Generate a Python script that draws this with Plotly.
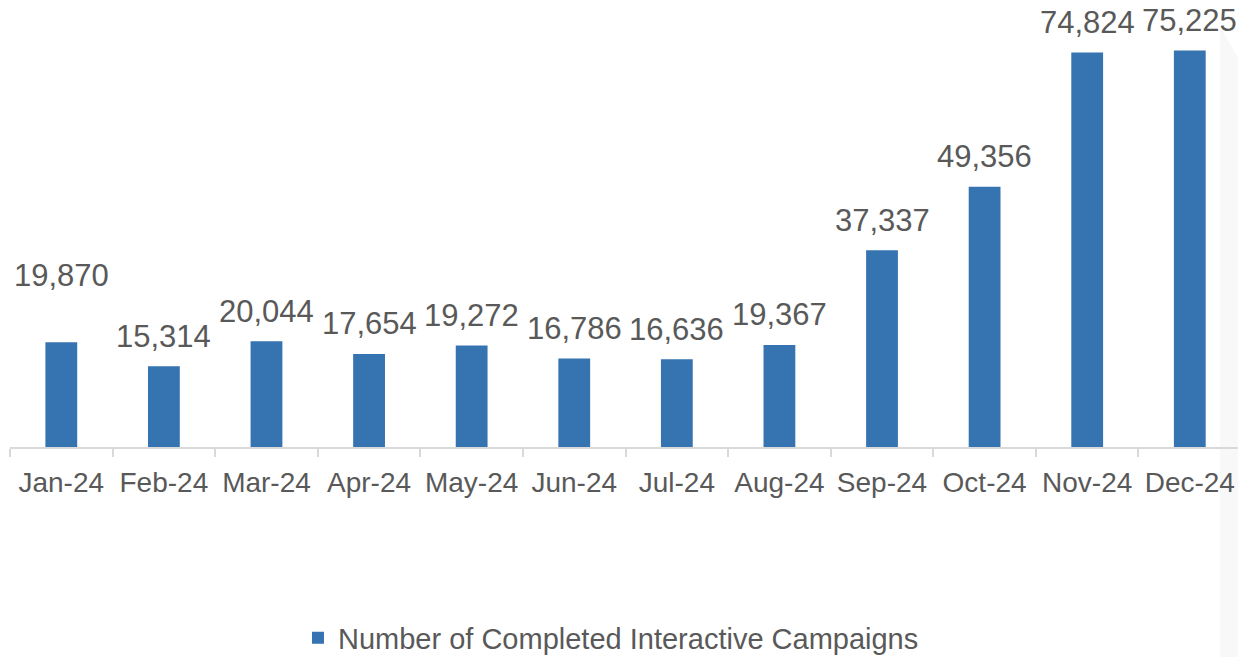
import plotly.graph_objects as go

months = ["Jan-24", "Feb-24", "Mar-24", "Apr-24", "May-24", "Jun-24",
          "Jul-24", "Aug-24", "Sep-24", "Oct-24", "Nov-24", "Dec-24"]
campaigns = [19870, 15314, 20044, 17654, 19272, 16786,
             16636, 19367, 37337, 49356, 74824, 75225]
series_name = "Number of Completed Interactive Campaigns"

BAR = "#3673B1"
TXT = "#595959"
FONT = "Liberation Sans, Arial, sans-serif"

fig = go.Figure()
fig.add_trace(go.Bar(x=months, y=campaigns, name=series_name,
                     marker=dict(color=BAR, line=dict(width=0)),
                     hoverinfo="skip"))

# data labels (Jan label sits higher in the original)
shifts = [67] + [30] * (len(months) - 1)
for m, v, s in zip(months, campaigns, shifts):
    fig.add_annotation(x=m, y=v, text=f"{v:,}", showarrow=False,
                       yanchor="middle", yshift=s,
                       font=dict(size=31, color=TXT, family=FONT))

# light grey strip at the right edge
def px2paper(px, py):
    return (px - 10) / 1228, (447 - py) / 447

pts = [px2paper(1220, 30), px2paper(1222, 30), px2paper(1238, 58),
       px2paper(1238, 657), px2paper(1220, 657)]
path = "M " + " L ".join(f"{x:.5f},{y:.5f}" for x, y in pts) + " Z"
fig.add_shape(type="path", path=path, xref="paper", yref="paper",
              fillcolor="#f8f8f8", line=dict(width=0), layer="below")

fig.update_layout(
    width=1238, height=657,
    margin=dict(l=10, r=0, t=0, b=210, autoexpand=False),
    paper_bgcolor="white", plot_bgcolor="rgba(0,0,0,0)",
    bargap=0.69,
    font=dict(family=FONT, color=TXT),
    showlegend=True,
    legend=dict(orientation="h", x=0.4894, xanchor="center",
                y=-0.427, yanchor="middle",
                font=dict(size=29, color=TXT, family=FONT)),
    xaxis=dict(range=[-0.5, 11.47], showgrid=False, zeroline=False,
               showline=True, linecolor="#d9d9d9", linewidth=2,
               ticks="outside", tickson="boundaries", ticklen=8,
               tickcolor="#d9d9d9", tickwidth=2, tickangle=0,
               automargin=False, ticklabelstandoff=9,
               tickfont=dict(size=28, color=TXT, family=FONT)),
    yaxis=dict(range=[0, 84800], visible=False, showgrid=False,
               zeroline=False),
)

fig.write_html("out.html")
